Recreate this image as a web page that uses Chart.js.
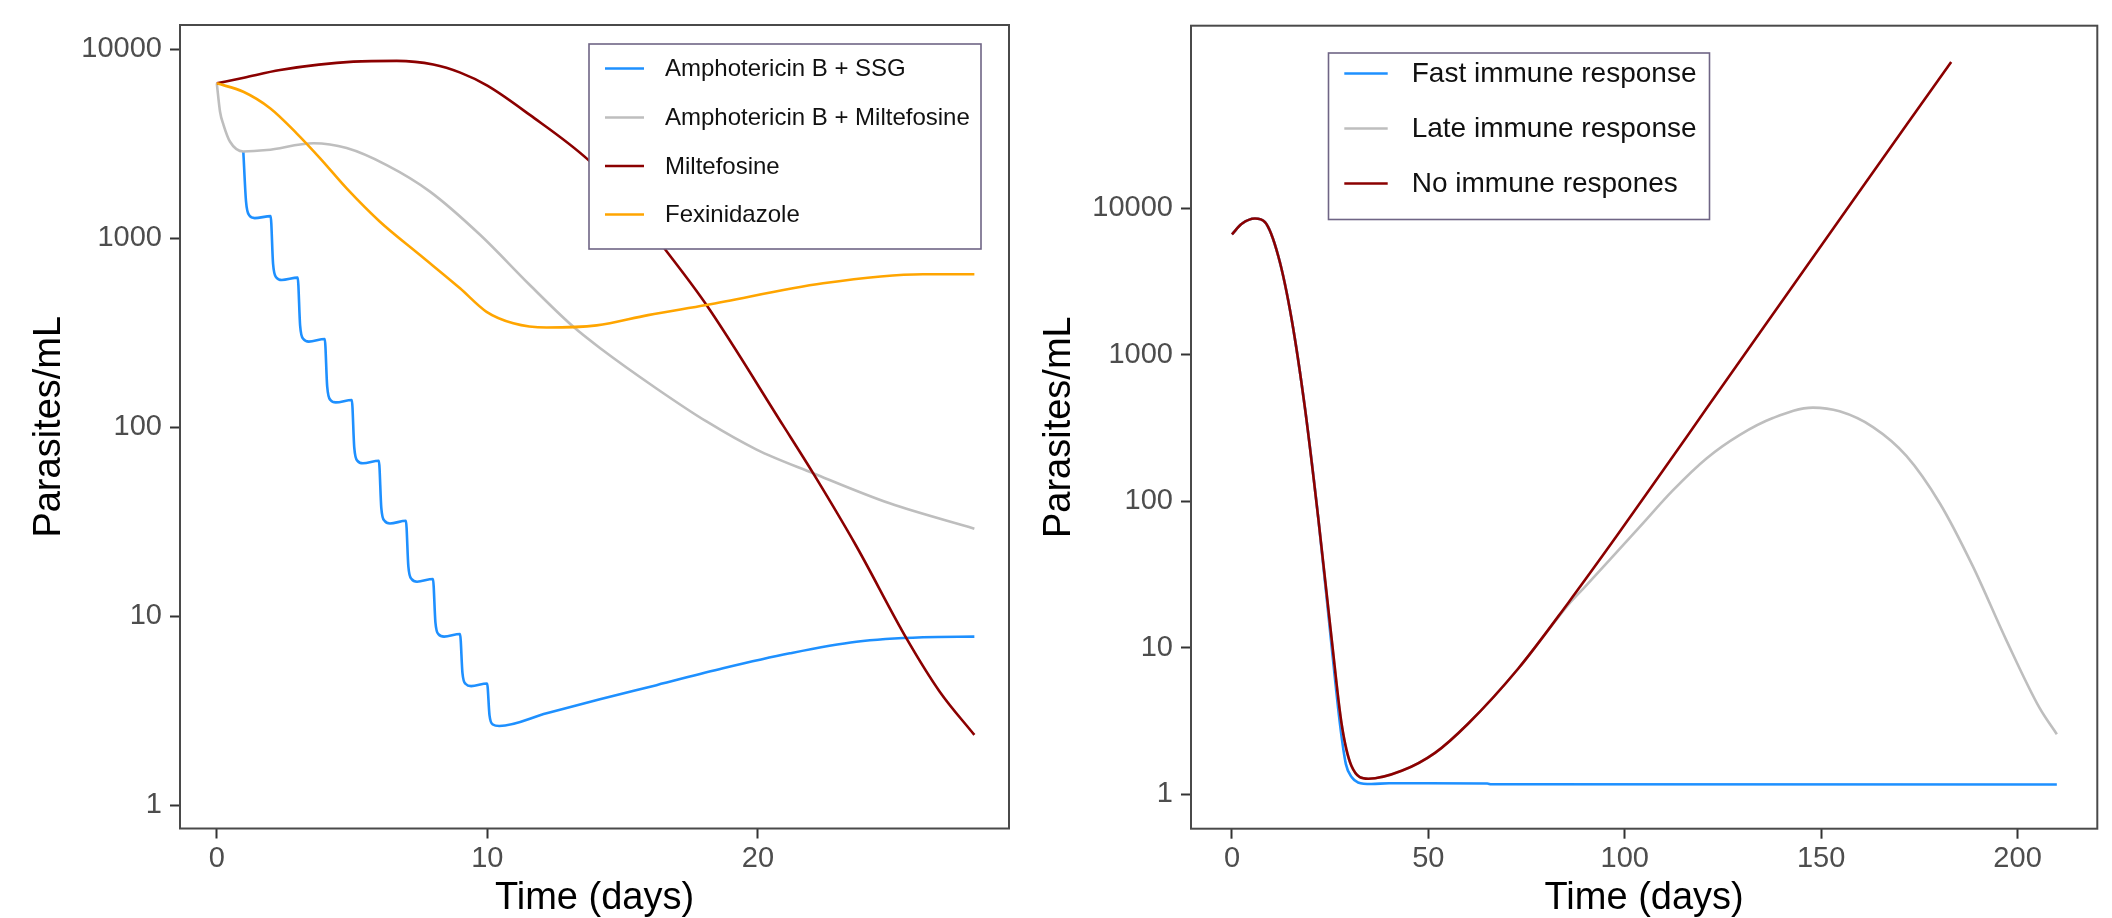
<!DOCTYPE html>
<html>
<head>
<meta charset="utf-8">
<script src="https://cdn.jsdelivr.net/npm/chart.js@4/dist/chart.umd.min.js"></script>
<style>
html,body{margin:0;padding:0;background:#fff;width:2112px;height:918px;overflow:hidden;}
canvas{position:absolute;top:0;}
#c1{left:0;}
#c2{left:1030px;}
</style>
</head>
<body>
<canvas id="c1" width="1030" height="918"></canvas>
<canvas id="c2" width="1082" height="918"></canvas>
<script>
// ---------- shared labels ----------
const xTitle = 'Time (days)';
const yTitle = 'Parasites/mL';
const yTicks = [1, 10, 100, 1000, 10000];
const yTickLabels = ['1', '10', '100', '1000', '10000'];
const xTicksLeft = [0, 10, 20];
const xTickLabelsLeft = ['0', '10', '20'];
const xTicksRight = [0, 50, 100, 150, 200];
const xTickLabelsRight = ['0', '50', '100', '150', '200'];

// ---------- left panel: treatments ----------
const leftLabels = ['Amphotericin B + SSG', 'Amphotericin B + Miltefosine', 'Miltefosine', 'Fexinidazole'];
const leftColors = ['#1E90FF', '#BEBEBE', '#8B0000', '#FFA500'];

// (days 0-1 of this regimen coincide with Amphotericin B + Miltefosine and are hidden beneath it)
const ssgDays = [0.98,
  1.08,1.2,1.4,1.99, 2.08,2.2,2.4,2.99, 3.08,3.2,3.4,3.99, 4.08,4.2,4.4,4.99,
  5.08,5.2,5.4,5.99, 6.08,6.2,6.4,6.99, 7.08,7.2,7.4,7.99, 8.08,8.2,8.4,8.99,
  9.08,9.2,9.4,9.99, 10.08,10.2,10.44,
  12.19,14.16,16.25,18.71,21.18,23.64,26.1,28];
const ssgValues = [2870,
  1563,1318,1275,1305, 729,619,600,617, 344,292,283,292, 164,139,135,139,
  78,66.2,64.3,66.3, 37.4,31.9,30.9,31.9, 18.3,15.7,15.2,15.7, 9.27,8.0,7.78,8.03,
  4.99,4.37,4.26,4.40, 2.98,2.67,2.62,
  3.06,3.63,4.31,5.29,6.35,7.31,7.72,7.78];

const ambMilDays = [0,0.12,0.25,0.49,0.98,1.85,3.57,4.8,6.28,7.88,9.73,11.57,13.17,14.16,16.25,18.1,19.95,22.04,24.87,28];
const ambMilValues = [6580,4660,3960,3230,2870,2920,3170,2990,2430,1760,1040,564,340,262,160,107,76,57,39.5,29];

const milDays = [0,1,2.34,5.05,6.65,8.0,9.0,10.0,11.57,13.73,15.2,16.56,18.1,20.93,22.04,23.64,25.49,26.72,28];
const milValues = [6580,7050,7740,8570,8650,8280,7500,6400,4480,2590,1560,875,442,102,57,23.4,7.62,3.98,2.35];

const fexDays = [0,0.98,1.97,2.95,3.82,4.8,6.03,7.51,8.99,9.97,10.96,12.19,14.04,15.94,18.1,22.41,26.1,28];
const fexValues = [6580,5940,4860,3580,2640,1830,1220,813,542,407,354,336,345,391,442,576,643,643];

// ---------- right panel: immune response ----------
const rightLabels = ['Fast immune response', 'Late immune response', 'No immune respones'];
const rightColors = ['#1E90FF', '#BEBEBE', '#8B0000'];

const fastDays = [0,2.5,5.85,8.4,11.8,15.2,18.6,22,25.2,27.5,29,30.5,32.1,35.5,40,50,65,66,210];
const fastValues = [6650,7850,8530,8050,4710,1745,429,75.5,11.3,3.0,1.6,1.3,1.2,1.17,1.185,1.185,1.18,1.165,1.16];

const lateDays = [0,2.5,5.85,8.4,11.8,15.2,18.6,22,25.4,27.9,30.4,34.7,43.2,51.7,60.1,72.9,80,85.6,89.8,98.3,103.8,112.3,120.8,129.3,137.7,147.9,154.7,163.2,171.7,180.2,188.6,197.1,205.6,210];
const lateValues = [6650,7850,8530,8050,4710,1745,429,75.5,11.3,3.02,1.56,1.27,1.44,1.91,3.02,7.2,12.6,19.6,25.9,46,66.8,119,196,284,370,436,411,321,204,96.9,36,11.3,3.87,2.56];

const noneDays = [0,2.5,5.85,8.4,11.8,15.2,18.6,22,25.4,27.9,30.4,34.7,43.2,51.7,60.1,72.9,85.6,98.3,110,120.8,137.7,154.7,171.7,183.1];
const noneValues = [6650,7850,8530,8050,4710,1745,429,75.5,11.3,3.02,1.56,1.27,1.44,1.91,3.02,7.2,20.2,59.6,166,429,1890,8390,37200,100000];

// ---------- rendering ----------
const FONT = '"Liberation Sans", Arial, Helvetica, sans-serif';
Chart.defaults.font.family = FONT;

function pts(xs, ys) { return xs.map((x, i) => ({ x: x, y: ys[i] })); }

const panelPlugin = {
  id: 'panel',
  afterDatasetsDraw(chart) {
    const a = chart.chartArea, ctx = chart.ctx;
    ctx.save();
    ctx.strokeStyle = '#4a4a4a';
    ctx.lineWidth = 2;
    ctx.strokeRect(a.left, a.top, a.right - a.left, a.bottom - a.top);
    ctx.restore();
  },
  afterDraw(chart, args, opts) {
    const L = opts.box;
    if (!L) return;
    const ctx = chart.ctx;
    ctx.save();
    ctx.fillStyle = '#ffffff';
    ctx.fillRect(L.x, L.y, L.w, L.h);
    ctx.strokeStyle = '#6F6585';
    ctx.lineWidth = 1.6;
    ctx.strokeRect(L.x, L.y, L.w, L.h);
    ctx.font = L.fontSize + 'px ' + FONT;
    ctx.textBaseline = 'middle';
    ctx.textAlign = 'left';
    chart.data.datasets.forEach((ds, i) => {
      const y = L.rows[i];
      ctx.strokeStyle = ds.borderColor;
      ctx.lineWidth = 2.6;
      ctx.beginPath();
      ctx.moveTo(L.lineX0, y);
      ctx.lineTo(L.lineX1, y);
      ctx.stroke();
      ctx.fillStyle = '#111111';
      ctx.fillText(ds.label, L.textX, y + 1);
    });
    ctx.restore();
  }
};

function build(id, cfg) {
  const canvas = document.getElementById(id);
  const W = canvas.width, H = canvas.height;
  const n = cfg.series.length;
  return new Chart(canvas, {
    type: 'line',
    data: {
      datasets: cfg.series.map((s, i) => ({
        label: s.label,
        data: pts(s.days, s.values),
        borderColor: s.color,
        backgroundColor: s.color,
        borderWidth: 2.6,
        pointRadius: 0,
        pointHoverRadius: 0,
        fill: false,
        cubicInterpolationMode: 'monotone',
        order: n - i
      }))
    },
    options: {
      responsive: false,
      animation: false,
      devicePixelRatio: 1,
      events: [],
      layout: { padding: { left: 0, top: cfg.area.top, right: W - cfg.area.right, bottom: 0 } },
      plugins: {
        legend: { display: false },
        tooltip: { enabled: false },
        panel: { box: cfg.legend }
      },
      scales: {
        x: {
          type: 'linear', position: 'bottom',
          min: cfg.xMin, max: cfg.xMax,
          afterBuildTicks: s => { s.ticks = cfg.xTicks.map(v => ({ value: v })); },
          afterFit: s => { s.height = H - cfg.area.bottom; s.paddingLeft = 0; s.paddingRight = 0; },
          ticks: {
            autoSkip: false, maxRotation: 0, minRotation: 0,
            color: '#4d4d4d', font: { size: 29 }, padding: 3,
            callback: (v, i) => cfg.xTickLabels[i]
          },
          grid: { drawOnChartArea: false, drawTicks: true, tickLength: 10, tickWidth: 2, tickColor: '#333333', color: '#333333' },
          border: { display: false },
          title: { display: true, text: xTitle, color: '#000000', font: { size: 38, lineHeight: 1 }, padding: { top: 0, bottom: 0 } }
        },
        y: {
          type: 'logarithmic', position: 'left',
          min: cfg.yMin, max: cfg.yMax,
          afterBuildTicks: s => { s.ticks = yTicks.map(v => ({ value: v })); },
          afterFit: s => { s.width = cfg.area.left; s.paddingTop = 0; s.paddingBottom = 0; },
          ticks: {
            autoSkip: false,
            color: '#4d4d4d', font: { size: 29 }, padding: 8,
            callback: (v, i) => yTickLabels[i]
          },
          grid: { drawOnChartArea: false, drawTicks: true, tickLength: 10, tickWidth: 2, tickColor: '#333333', color: '#333333' },
          border: { display: false },
          title: { display: true, text: yTitle, color: '#000000', font: { size: 38, lineHeight: 1 }, padding: { top: cfg.yTitlePad, bottom: 0 } }
        }
      }
    },
    plugins: [panelPlugin]
  });
}

build('c1', {
  series: [
    { label: leftLabels[0], color: leftColors[0], days: ssgDays, values: ssgValues },
    { label: leftLabels[1], color: leftColors[1], days: ambMilDays, values: ambMilValues },
    { label: leftLabels[2], color: leftColors[2], days: milDays, values: milValues },
    { label: leftLabels[3], color: leftColors[3], days: fexDays, values: fexValues }
  ],
  area: { left: 180, right: 1009, top: 25, bottom: 828.5 },
  xMin: -1.36, xMax: 29.28,
  yMin: Math.pow(10, -0.124), yMax: Math.pow(10, 4.127),
  xTicks: xTicksLeft, xTickLabels: xTickLabelsLeft,
  yTitlePad: 30.3,
  legend: { x: 589, y: 44, w: 392, h: 205, rows: [68.5, 117.5, 166, 214.5], lineX0: 605, lineX1: 644, textX: 665, fontSize: 24 }
});

build('c2', {
  series: [
    { label: rightLabels[0], color: rightColors[0], days: fastDays, values: fastValues },
    { label: rightLabels[1], color: rightColors[1], days: lateDays, values: lateValues },
    { label: rightLabels[2], color: rightColors[2], days: noneDays, values: noneValues }
  ],
  area: { left: 161, right: 1067.3, top: 25.7, bottom: 828.7 },
  xMin: -10.43, xMax: 220.3,
  yMin: Math.pow(10, -0.237), yMax: Math.pow(10, 5.248),
  xTicks: xTicksRight, xTickLabels: xTickLabelsRight,
  yTitlePad: 11,
  legend: { x: 298.5, y: 53, w: 381, h: 166.5, rows: [73.5, 128.5, 183.5], lineX0: 314.3, lineX1: 357.7, textX: 381.7, fontSize: 28 }
});
</script>
</body>
</html>
